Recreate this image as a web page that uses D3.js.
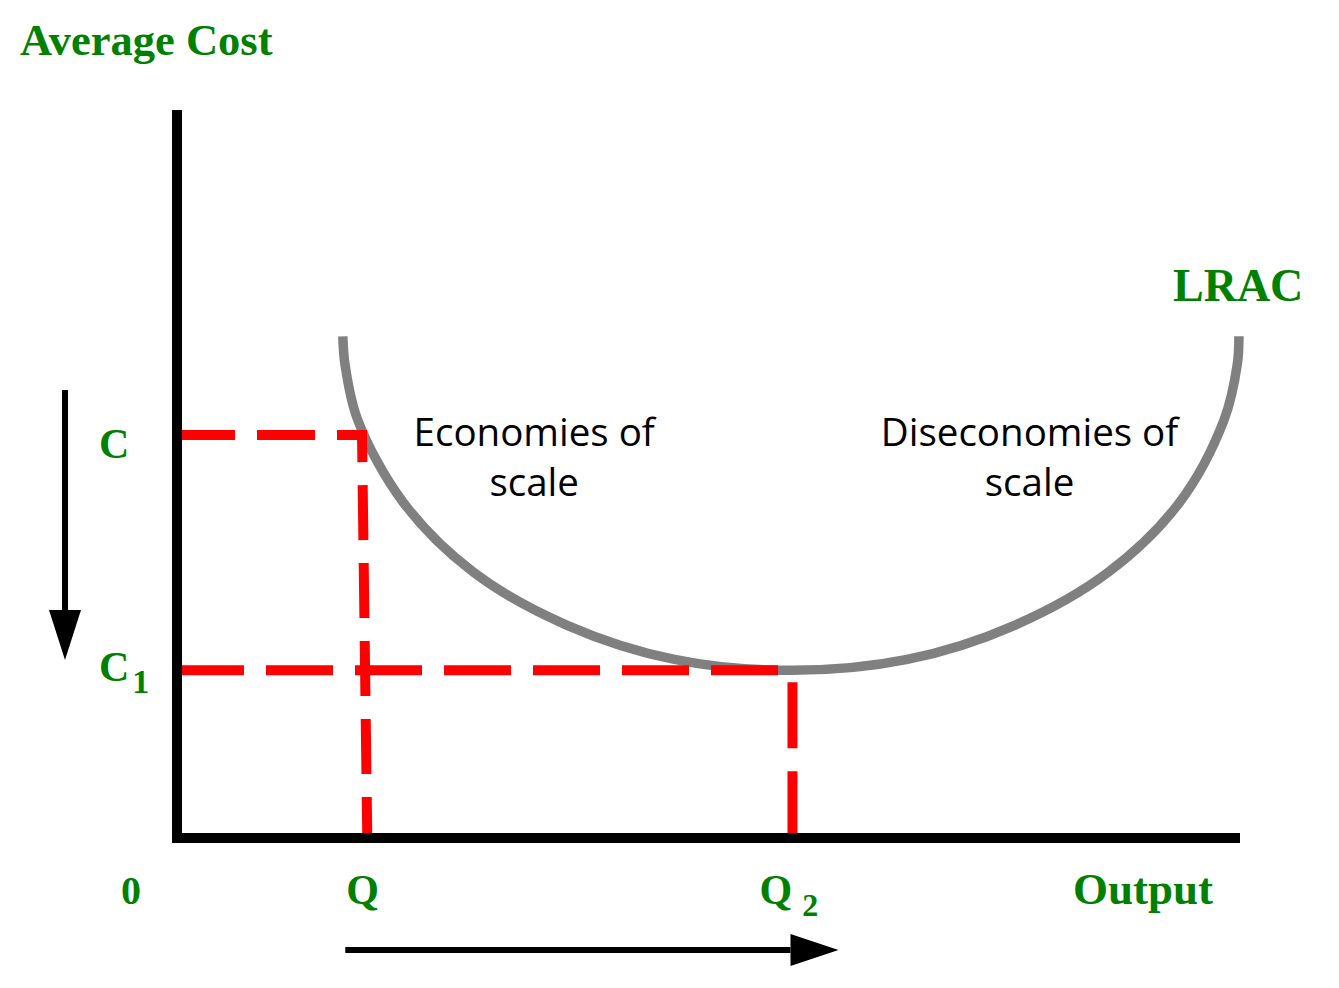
<!DOCTYPE html>
<html>
<head>
<meta charset="utf-8">
<script src="https://cdn.jsdelivr.net/npm/d3@7"></script>
<style>
  body { margin: 0; background: #fff; }
  svg { display: block; }
  .lbl { font-family: "Liberation Serif", "Times New Roman", serif; font-weight: bold; fill: #008000; }
  .region { font-family: "Open Sans", sans-serif; fill: #000; }
</style>
</head>
<body>
<svg id="chart" width="1339" height="988"></svg>
<script>
// DATA (output and cost in arbitrary units, 0..100)

// LRAC curve
var lracOutput = [15.6, 15.8, 17.0, 21.3, 27.9, 36.7, 46.8, 57.8, 68.7, 78.8, 87.6, 94.3, 98.5, 99.75, 99.9];
var lracCost   = [69.1, 65.3, 57.6, 46.2, 36.6, 29.3, 24.6, 23.1, 24.6, 29.3, 36.6, 46.2, 57.6, 65.3, 69.1];

// cost levels and output levels marked on the axes
var costLevels   = [55.5, 23.1];          // C, C1
var costNames    = ["C", "C"];
var costSubs     = ["", "1"];
var outputTop    = [17.4, 57.9];          // where the drop lines leave the curve
var outputBottom = [17.9, 57.9];          // where they hit the x axis
var outputNames  = ["Q", "Q"];
var outputSubs   = ["", "2"];

var regionText = [["Economies of", "scale"], ["Diseconomies of", "scale"]];
var regionAt   = [33.6, 80.2];

// SETUP

var svg = d3.select("#chart");
var x = d3.scaleLinear().domain([0, 100]).range([177, 1240]);
var y = d3.scaleLinear().domain([0, 100]).range([838, 112]);

var green = "#008000", red = "#ff0000", grey = "#808080";

// title
svg.append("text").attr("class", "lbl")
   .attr("x", 20).attr("y", 55)
   .style("font-size", "44.5px")
   .text("Average Cost");

// LRAC curve
var pts = lracOutput.map(function(d, i) { return [d, lracCost[i]]; });
var line = d3.line()
    .x(function(d) { return x(d[0]); })
    .y(function(d) { return y(d[1]); })
    .curve(d3.curveCatmullRom.alpha(0.5));

svg.append("path")
   .attr("d", line(pts))
   .attr("fill", "none")
   .attr("stroke", grey)
   .attr("stroke-width", 9.5);

svg.append("text").attr("class", "lbl")
   .attr("x", 1173).attr("y", 301)
   .style("font-size", "46px")
   .text("LRAC");

// red dashed guides
var hDash = ["58,22", "67,22"];
costLevels.forEach(function(c, i) {
  svg.append("line")
     .attr("x1", x(0)).attr("x2", x(outputTop[i]) + 5)
     .attr("y1", y(c)).attr("y2", y(c))
     .attr("stroke", red).attr("stroke-width", 10)
     .attr("stroke-dasharray", hDash[i]);
});

// Q drop line (starts mid dash at the corner)
svg.append("line")
   .attr("x1", x(outputTop[0])).attr("y1", y(costLevels[0]) - 5)
   .attr("x2", x(outputBottom[0])).attr("y2", y(0))
   .attr("stroke", red).attr("stroke-width", 10)
   .attr("stroke-dasharray", "55,23").attr("stroke-dashoffset", 23);

// Q2 drop line (starts with a short gap)
svg.append("line")
   .attr("x1", x(outputTop[1])).attr("y1", y(costLevels[1]))
   .attr("x2", x(outputBottom[1])).attr("y2", y(0))
   .attr("stroke", red).attr("stroke-width", 10)
   .attr("stroke-dasharray", "66,23").attr("stroke-dashoffset", 77);

// axes
svg.append("line")
   .attr("x1", x(0)).attr("x2", x(0))
   .attr("y1", y(100) - 2).attr("y2", y(0) + 5)
   .attr("stroke", "#000").attr("stroke-width", 10);
svg.append("line")
   .attr("x1", x(0) - 5).attr("x2", x(100))
   .attr("y1", y(0)).attr("y2", y(0))
   .attr("stroke", "#000").attr("stroke-width", 10);

// cost labels
var cBase = [23, 11];
costLevels.forEach(function(c, i) {
  var t = svg.append("text").attr("class", "lbl")
     .attr("x", 99).attr("y", y(c) + cBase[i])
     .style("font-size", "42px")
     .text(costNames[i]);
  if (costSubs[i]) {
    t.append("tspan").attr("dy", 12).attr("dx", 3)
     .style("font-size", "34px").text(costSubs[i]);
  }
});

// output labels
svg.append("text").attr("class", "lbl")
   .attr("x", 121).attr("y", 904)
   .style("font-size", "40px").text("0");

var qShift = [-21, -33];
outputBottom.forEach(function(q, i) {
  var t = svg.append("text").attr("class", "lbl")
     .attr("x", x(q) + qShift[i]).attr("y", 904)
     .style("font-size", "42px")
     .text(outputNames[i]);
  if (outputSubs[i]) {
    t.append("tspan").attr("dy", 12).attr("dx", 10)
     .style("font-size", "32px").text(outputSubs[i]);
  }
});

svg.append("text").attr("class", "lbl")
   .attr("x", 1073).attr("y", 904)
   .style("font-size", "45px").text("Output");

// region notes
regionText.forEach(function(lines, i) {
  var t = svg.append("text").attr("class", "region")
     .attr("text-anchor", "middle")
     .style("font-size", "38.5px");
  lines.forEach(function(s, j) {
    t.append("tspan")
     .attr("x", x(regionAt[i]))
     .attr("y", 446 + j * 50)
     .text(s);
  });
});

// direction arrows
function arrow(x1, y1, x2, y2, head, half) {
  var ang = Math.atan2(y2 - y1, x2 - x1);
  var bx = x2 - head * Math.cos(ang), by = y2 - head * Math.sin(ang);
  svg.append("line")
     .attr("x1", x1).attr("y1", y1).attr("x2", bx).attr("y2", by)
     .attr("stroke", "#000").attr("stroke-width", 6);
  var nx = -Math.sin(ang) * half, ny = Math.cos(ang) * half;
  svg.append("path")
     .attr("d", "M" + (bx + nx) + "," + (by + ny) + "L" + x2 + "," + y2 + "L" + (bx - nx) + "," + (by - ny) + "Z")
     .attr("fill", "#000");
}
arrow(65, 390, 65, 660, 50, 16);
arrow(x(outputBottom[0]) - 22, 950, x(outputBottom[1]) + 46, 950, 48, 16);
</script>
</body>
</html>
